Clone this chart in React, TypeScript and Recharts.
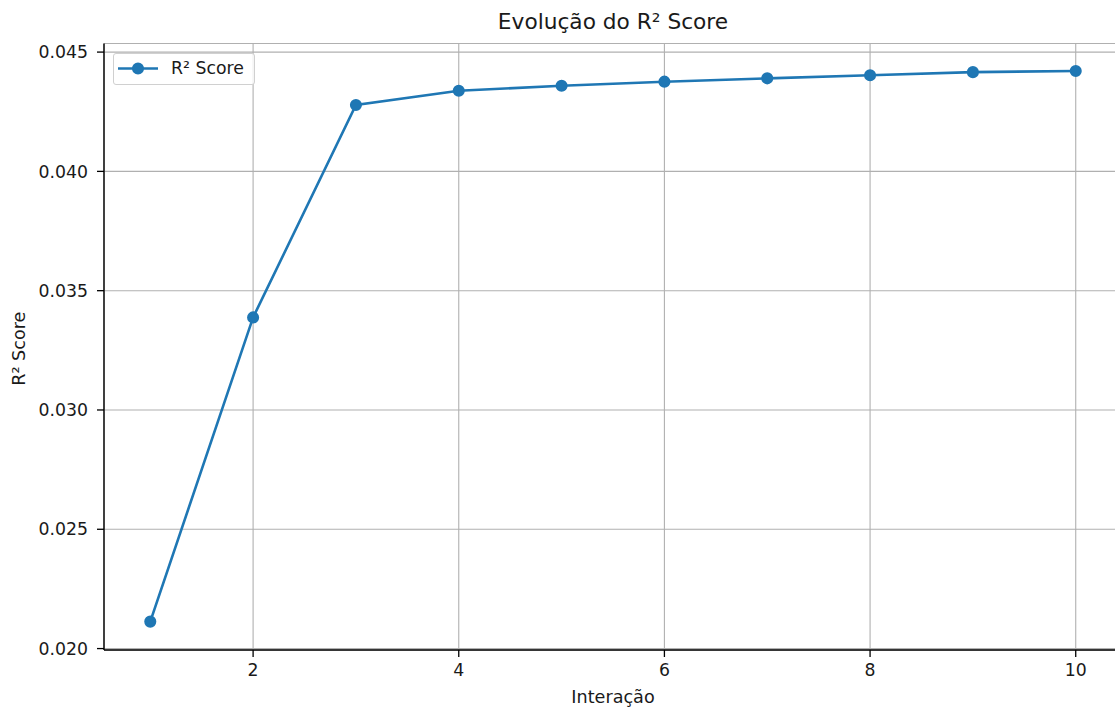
import React from "react";
import { LineChart, Line, XAxis, YAxis, CartesianGrid, Legend } from "recharts";

const iterations = [1, 2, 3, 4, 5, 6, 7, 8, 9, 10];
const r2Scores = [
  0.02113, 0.03388, 0.04278, 0.04338, 0.04359, 0.04376, 0.0439, 0.04403,
  0.04416, 0.04421,
];
const xTicks = [2, 4, 6, 8, 10];
const yTicks = [0.02, 0.025, 0.03, 0.035, 0.04, 0.045];

const data = iterations.map((it, i) => ({ it, r2: r2Scores[i] }));

const FONT = "'DejaVu Sans', sans-serif";
const BLUE = "#1f77b4";
const INK = "#1a1a1a";

function LegendBox() {
  return (
    <div
      style={{
        width: 140,
        height: 30,
        border: "1px solid #d0d0d0",
        borderRadius: 3,
        background: "rgba(255,255,255,0.8)",
        position: "relative",
        fontFamily: FONT,
      }}
    >
      <svg width={56} height={30} style={{ position: "absolute", left: 0, top: 0 }}>
        <line x1={4} y1={14.5} x2={44} y2={14.5} stroke={BLUE} strokeWidth={2.6} />
        <circle cx={24} cy={14.5} r={5.2} fill={BLUE} stroke={BLUE} strokeWidth={1.7} />
      </svg>
      <span
        style={{
          position: "absolute",
          left: 57,
          top: 4,
          fontSize: 17.3,
          color: INK,
          lineHeight: "20px",
          whiteSpace: "nowrap",
        }}
      >
        R² Score
      </span>
    </div>
  );
}

export default function App() {
  return (
    <div
      style={{
        position: "absolute",
        left: 0,
        top: 0,
        width: 1115,
        height: 709,
        overflow: "hidden",
        background: "#fff",
        fontFamily: FONT,
      }}
    >
      <div
        style={{
          position: "absolute",
          left: 0,
          width: 1226,
          top: 9,
          textAlign: "center",
          fontSize: 21.7,
          color: INK,
          lineHeight: "26px",
        }}
      >
        Evolução do R² Score
      </div>
      <LineChart
        width={1130}
        height={709}
        data={data}
        margin={{ top: 43.5, right: 8, bottom: 0, left: 0 }}
      >
        <CartesianGrid stroke="#b0b0b0" strokeWidth={1.1} />
        <XAxis
          dataKey="it"
          type="number"
          domain={[0.55, 10.45]}
          ticks={xTicks}
          allowDataOverflow
          height={59}
          tickSize={7}
          tickMargin={7}
          stroke="#000"
          tick={{ fill: INK, fontSize: 17.3, fontFamily: FONT }}
          tickLine={{ stroke: "#000", strokeWidth: 1.3 }}
          axisLine={{ stroke: "#000", strokeWidth: 1.4 }}
          label={{
            value: "Interação",
            position: "insideBottom",
            offset: 6,
            fill: INK,
            fontSize: 17.6,
            fontFamily: FONT,
          }}
        />
        <XAxis
          xAxisId="top"
          orientation="top"
          dataKey="it"
          type="number"
          domain={[0.55, 10.45]}
          height={0}
          tick={false}
          tickLine={false}
          axisLine={{ stroke: "#000", strokeWidth: 1.4 }}
        />
        <YAxis
          type="number"
          domain={[0.01994, 0.04536]}
          ticks={yTicks}
          allowDataOverflow
          width={104}
          tickSize={7}
          tickMargin={9}
          tickFormatter={(v: number) => v.toFixed(3)}
          tick={{ fill: INK, fontSize: 17.3, fontFamily: FONT }}
          tickLine={{ stroke: "#000", strokeWidth: 1.3 }}
          axisLine={{ stroke: "#000", strokeWidth: 1.4 }}
          label={{
            content: (props: any) => {
              const vb = props.viewBox || { x: 0, y: 0, width: 0, height: 0 };
              const cx = vb.x + 19;
              const cy = vb.y + vb.height / 2 + 2;
              return (
                <text
                  x={cx}
                  y={cy}
                  transform={`rotate(-90 ${cx} ${cy})`}
                  textAnchor="middle"
                  dominantBaseline="central"
                  fill={INK}
                  fontSize={17.6}
                  fontFamily={FONT}
                >
                  R² Score
                </text>
              );
            },
          }}
        />
        <Legend
          layout="vertical"
          align="center"
          verticalAlign="middle"
          wrapperStyle={{ left: 113, top: 53, width: "auto" }}
          content={() => <LegendBox />}
        />
        <Line
          type="linear"
          dataKey="r2"
          name="R² Score"
          stroke={BLUE}
          strokeWidth={2.6}
          dot={{ r: 5.2, fill: BLUE, stroke: BLUE, strokeWidth: 1.7 }}
          activeDot={false}
          isAnimationActive={false}
        />
      </LineChart>
    </div>
  );
}
